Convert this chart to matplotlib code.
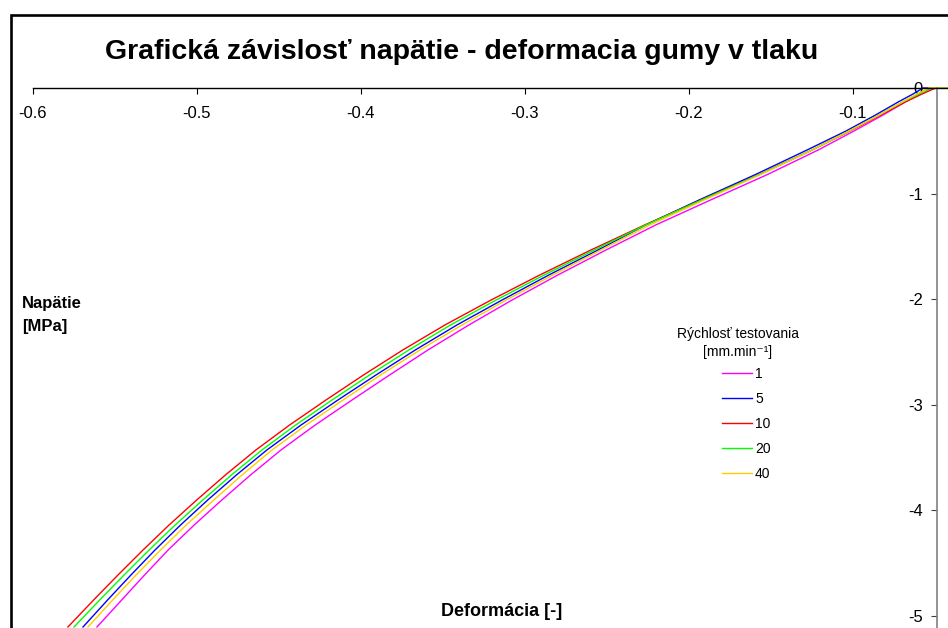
import matplotlib
matplotlib.use("Agg")
import matplotlib.pyplot as plt
from matplotlib.patches import Rectangle

# ============================================================================ #
# data (deformation [-], stress [MPa])

speeds = ["1", "5", "10", "20", "40"]
colors = ("#FF00FF", "#0000FF", "#FF0000", "#00FF00", "#FFCC00")

napatie = [-5.104, -4.848, -4.612, -4.375, -4.138, -3.902, -3.665, -3.428, -3.191,
           -2.955, -2.718, -2.481, -2.244, -2.008, -1.771, -1.534, -1.297, -1.061,
           -0.824, -0.587, -0.407, -0.256, -0.133, -0.057, -0.009, 0.0, 0.0]

def_1  = [-0.5610, -0.5459, -0.5320, -0.5176, -0.5017, -0.4849, -0.4674, -0.4488, -0.4279,
          -0.4055, -0.3826, -0.3592, -0.3342, -0.3079, -0.2800, -0.2506, -0.2203, -0.1869,
          -0.1528, -0.1212, -0.0994, -0.0817, -0.0682, -0.0591, -0.0533, -0.0525, -0.03]
def_5  = [-0.5695, -0.5545, -0.5403, -0.5256, -0.5100, -0.4935, -0.4760, -0.4574, -0.4365,
          -0.4141, -0.3909, -0.3669, -0.3415, -0.3140, -0.2855, -0.2555, -0.2264, -0.1939,
          -0.1601, -0.1280, -0.1042, -0.0863, -0.0725, -0.0634, -0.0582, -0.0573, -0.03]
def_10 = [-0.5787, -0.5630, -0.5482, -0.5329, -0.5170, -0.5002, -0.4827, -0.4641, -0.4435,
          -0.4214, -0.3985, -0.3745, -0.3488, -0.3207, -0.2910, -0.2598, -0.2270, -0.1927,
          -0.1577, -0.1249, -0.1018, -0.0832, -0.0682, -0.0579, -0.0509, -0.0494, -0.03]
def_20 = [-0.5750, -0.5593, -0.5445, -0.5292, -0.5133, -0.4965, -0.4790, -0.4604, -0.4398,
          -0.4177, -0.3948, -0.3708, -0.3454, -0.3176, -0.2883, -0.2577, -0.2264, -0.1924,
          -0.1577, -0.1249, -0.1024, -0.0841, -0.0697, -0.0597, -0.0533, -0.0525, -0.03]
def_40 = [-0.5665, -0.5514, -0.5372, -0.5222, -0.5066, -0.4898, -0.4726, -0.4543, -0.4334,
          -0.4110, -0.3881, -0.3641, -0.3384, -0.3115, -0.2831, -0.2537, -0.2239, -0.1909,
          -0.1571, -0.1249, -0.1024, -0.0841, -0.0700, -0.0610, -0.0546, -0.0537, -0.03]

x_ticks = [-0.6, -0.5, -0.4, -0.3, -0.2, -0.1]
y_ticks = [0, -1, -2, -3, -4, -5]

# ============================================================================ #

plt.rcParams['font.family'] = ['Liberation Sans', 'DejaVu Sans']
plt.rcParams['axes.unicode_minus'] = False

fig = plt.figure(figsize=(9.48, 6.28), dpi=100)
ax = fig.add_axes([0, 0, 1, 1])
ax.patch.set_visible(False)

for xs, c, lab in zip((def_1, def_5, def_10, def_20, def_40), colors, speeds) :
    ax.plot(xs, napatie, color=c, lw=1.0, label=lab)

ax.set_xlim(-0.62012, -0.04207)
ax.set_ylim(-5.1136, 0.8333)

ax.spines['top'].set_visible(False)
ax.spines['right'].set_visible(False)
ax.spines['bottom'].set_position(('data', 0))
ax.spines['bottom'].set_bounds(-0.6, -0.04207)
ax.spines['bottom'].set_linewidth(1.0)
ax.spines['left'].set_position(('data', -0.0488))
ax.spines['left'].set_bounds(-5.1136, 0)
ax.spines['left'].set_color("#808080")
ax.spines['left'].set_linewidth(1.2)

ax.set_xticks(x_ticks, [str(v) for v in x_ticks])
ax.set_yticks(y_ticks, [str(v) for v in y_ticks])
ax.tick_params(axis='x', direction='out', length=4, width=0.8, pad=9, labelsize=12)
ax.tick_params(axis='y', direction='out', length=4, width=0.8, pad=6, labelsize=12, color="#404040")

fig.text(462 / 948, 1 - 59.3 / 628, "Grafická závislosť napätie - deformacia gumy v tlaku",
         ha='center', va='baseline', fontsize=20.5, fontweight='bold')
fig.text(22 / 948, 1 - 307.7 / 628, "Napätie", ha='left', va='baseline', fontsize=12, fontweight='bold')
fig.text(22 / 948, 1 - 330.7 / 628, "[MPa]", ha='left', va='baseline', fontsize=12, fontweight='bold')
fig.text(502 / 948, 1 - 616 / 628, "Deformácia [-]", ha='center', va='baseline', fontsize=13, fontweight='bold')

# legend title drawn apart, the entries sit closer below it than a legend title allows
fig.text(738 / 948, 1 - 338.3 / 628, "Rýchlosť testovania", ha='center', va='baseline', fontsize=10)
fig.text(737.5 / 948, 1 - 356 / 628, "[mm.min⁻¹]", ha='center', va='baseline', fontsize=10)

ax.legend(fontsize=10, frameon=False, loc='upper left', bbox_to_anchor=(721.7 / 948, 1 - 366.5 / 628),
          bbox_transform=fig.transFigure, borderaxespad=0, borderpad=0, handlelength=2.15,
          handletextpad=0.25, labelspacing=0.8)

fig.add_artist(Rectangle((11 / 948, -0.05), 1.0, 1 - 15 / 628 + 0.05, transform=fig.transFigure,
                         fill=False, lw=1.9, ec="black"))

fig.savefig("out.png", dpi=100)
